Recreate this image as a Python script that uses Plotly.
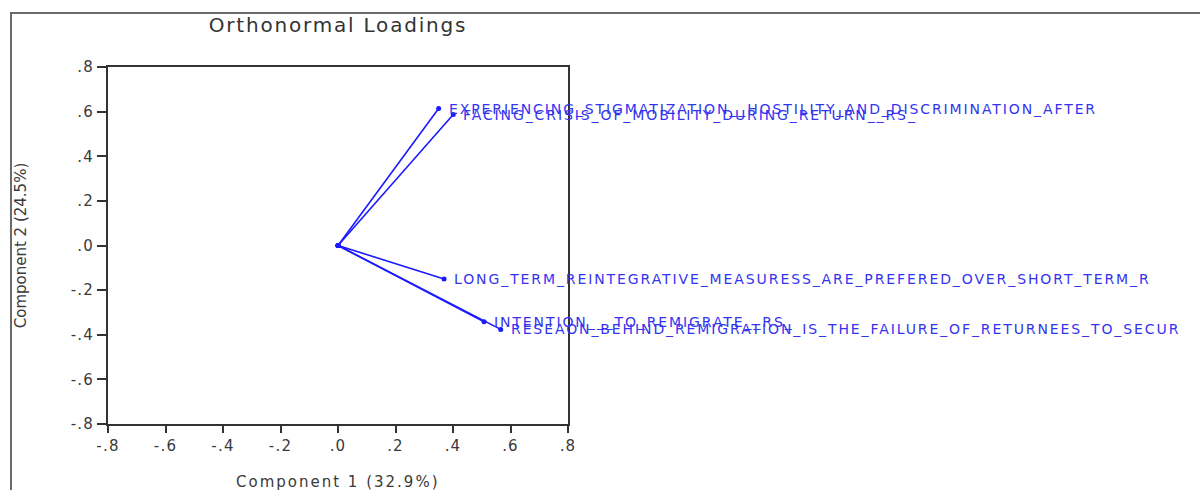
import plotly.graph_objects as go

# ---- data ----
variables = [
    "EXPERIENCING_STIGMATIZATION__HOSTILITY_AND_DISCRIMINATION_AFTER",
    "FACING_CRISIS_OF_MOBILITY_DURING_RETURN__RS_",
    "LONG_TERM_REINTEGRATIVE_MEASURESS_ARE_PREFERED_OVER_SHORT_TERM_R",
    "INTENTION___TO_REMIGRATE__RS_",
    "RESEAON_BEHIND_REMIGRATION_IS_THE_FAILURE_OF_RETURNEES_TO_SECUR",
]
component1 = [0.350, 0.401, 0.369, 0.508, 0.566]
component2 = [0.614, 0.587, -0.150, -0.342, -0.376]

tick_vals = [-0.8, -0.6, -0.4, -0.2, 0.0, 0.2, 0.4, 0.6, 0.8]
tick_text = ["-.8", "-.6", "-.4", "-.2", ".0", ".2", ".4", ".6", ".8"]

title_text = "Orthonormal Loadings"
x_title = "Component 1 (32.9%)"
y_title = "Component 2 (24.5%)"

# ---- style ----
LINE_BLUE = "#1a1aff"
TEXT_BLUE = "#3434f0"
FONT = "DejaVu Sans"


def spaced(s, px):
    return f"<span style='letter-spacing:{px}px'>{s}</span>"


fig = go.Figure()
for name, cx, cy in zip(variables, component1, component2):
    fig.add_trace(go.Scatter(
        x=[0, cx], y=[0, cy], mode="lines+markers",
        line=dict(color=LINE_BLUE, width=1.6),
        marker=dict(color=LINE_BLUE, size=5),
        hoverinfo="skip", showlegend=False, cliponaxis=False,
    ))
    fig.add_annotation(
        x=cx, y=cy, text=spaced(name, 1.9), showarrow=False,
        xanchor="left", yanchor="middle", xshift=8,
        font=dict(family=FONT, size=14, color=TEXT_BLUE),
    )

axis_common = dict(
    range=[-0.8, 0.8], tickmode="array", tickvals=tick_vals,
    ticktext=[spaced(t, 1.2) for t in tick_text],
    showgrid=False, zeroline=False, showline=True, mirror=True,
    linecolor="#333333", linewidth=2, ticks="outside", tickcolor="#333333",
    tickwidth=1.5, tickfont=dict(family=FONT, size=15, color="#3a3a3a"),
    fixedrange=True,
)

fig.update_xaxes(**axis_common, ticklen=7)
fig.update_yaxes(**axis_common, ticklen=9,
                 title=dict(text=y_title, standoff=40,
                            font=dict(family=FONT, size=15, color="#3a3a3a")))

# x-axis title placed as annotation so it can sit low like the reference
fig.add_annotation(
    x=0.5, y=0, xref="paper", yref="paper", text=spaced(x_title, 2),
    showarrow=False, xanchor="center", yanchor="top", yshift=-47,
    font=dict(family=FONT, size=15, color="#3a3a3a"),
)

# outer frame (pixel -> paper conversion relative to plot area 108..568 x 67..424)
fig.add_shape(type="rect", xref="paper", yref="paper",
              x0=-0.2109, x1=2.6, y0=-0.4, y1=1.1513,
              line=dict(color="#6a6a6a", width=2), fillcolor="rgba(0,0,0,0)",
              layer="above")

fig.update_layout(
    width=1200, height=490,
    margin=dict(l=108, r=632, t=67, b=66, autoexpand=False),
    paper_bgcolor="white", plot_bgcolor="white",
    title=dict(text=spaced(title_text, 1.8), x=0.5, xref="paper",
               y=1 - 25 / 490, yref="container", yanchor="middle",
               xanchor="center",
               font=dict(family=FONT, size=20, color="#333333")),
    showlegend=False,
)

fig.write_html("out.html")
